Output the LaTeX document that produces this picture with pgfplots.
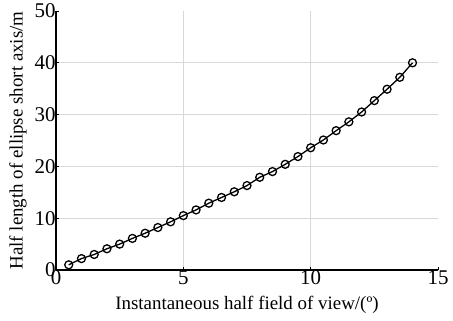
\documentclass[border=0pt]{standalone}
\usepackage{fontspec}
\setmainfont{Liberation Serif}
\usepackage{pgfplots}
\pgfplotsset{compat=1.18}
\begin{document}
\begin{tikzpicture}
\begin{axis}[
  scale only axis,
  width=382bp, height=259bp,
  xmin=0, xmax=15, ymin=0, ymax=50,
  axis x line*=bottom, axis y line*=left,
  axis line style={line width=1.3pt, black, -},
  xtick={0,5,10}, ytick={0,10,20,30,40},
  extra x ticks={15}, extra y ticks={50},
  extra tick style={grid=none},
  grid=major,
  major grid style={gray!30, line width=0.9pt},
  tick align=inside,
  major tick length=3pt,
  tick style={black, line width=0.9pt},
  /pgf/number format/assume math mode=true,
  tick label style={font=\fontsize{21}{24}\selectfont},
  label style={font=\fontsize{19}{22}\selectfont},
  xlabel={Instantaneous half field of view/(º)},
  ylabel={Half length of ellipse short axis/m},
  xticklabel style={yshift=3pt},
  yticklabel style={xshift=3pt},
  xlabel style={yshift=-5pt},
  ylabel style={yshift=1pt},
]
\addplot[black, line width=1.3pt, mark=o, mark size=4pt, mark options={line width=1.3pt}] coordinates {
(0.5,1.0)(1.0,2.2)(1.5,3.0)(2.0,4.1)(2.5,5.0)(3.0,6.1)(3.5,7.1)(4.0,8.2)(4.5,9.3)
(5.0,10.5)(5.5,11.6)(6.0,12.9)(6.5,14.0)(7.0,15.1)(7.5,16.3)(8.0,17.9)(8.5,19.0)
(9.0,20.4)(9.5,21.9)(10.0,23.6)(10.5,25.1)(11.0,26.9)(11.5,28.6)(12.0,30.5)
(12.5,32.7)(13.0,34.9)(13.5,37.2)(14.0,40.0)
};
\end{axis}
\pgfresetboundingbox
\useasboundingbox (-56bp,-51bp) rectangle (397bp,270bp);
\end{tikzpicture}
\end{document}
